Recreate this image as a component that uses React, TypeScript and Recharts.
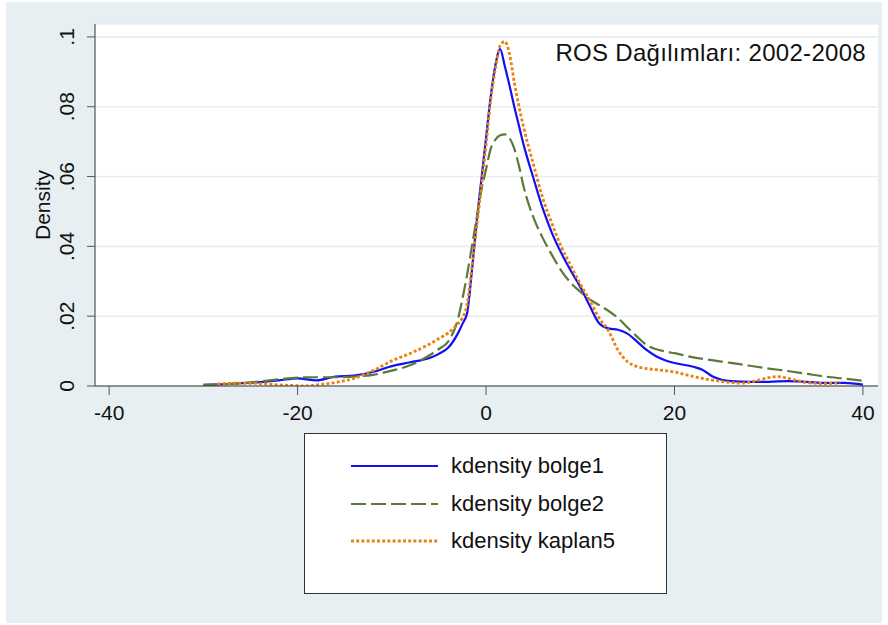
import React from "react";
import { LineChart, Line, XAxis, YAxis, CartesianGrid } from "recharts";

// x grid shared by the two bolge curves
const densityGrid = [
  -30, -28, -26, -24, -22, -20, -18, -16, -14, -12, -10, -8, -6, -5, -4, -3, -2.5, -2, -1.5, -1,
  -0.5, 0, 0.5, 1, 1.5, 2, 2.5, 3, 3.5, 4, 5, 6, 7, 8, 9, 10, 11, 12, 13, 14,
  15, 16, 17, 18, 19, 20, 22, 23, 24, 25, 26, 28, 30, 32, 34, 36, 38, 40,
];

const bolge1 = [
  0.0003, 0.0005, 0.0008, 0.0011, 0.0016, 0.0022, 0.0016, 0.0027, 0.003, 0.004, 0.0057, 0.0068, 0.008, 0.0092, 0.011, 0.015, 0.0178, 0.021, 0.033, 0.047,
  0.059, 0.071, 0.083, 0.092, 0.0965, 0.0915, 0.086, 0.08, 0.0745, 0.069, 0.0598, 0.051, 0.0438, 0.038, 0.033, 0.0284, 0.023, 0.018, 0.0165, 0.0161,
  0.015, 0.0128, 0.0104, 0.0086, 0.0074, 0.0066, 0.0055, 0.0046, 0.0028, 0.0018, 0.0014, 0.0012, 0.0012, 0.0014, 0.0012, 0.0009, 0.0009, 0.0004,
];

const bolge2 = [
  0.0003, 0.0005, 0.0008, 0.0013, 0.0019, 0.0024, 0.0025, 0.0025, 0.0027, 0.0032, 0.0044, 0.006, 0.0088, 0.0106, 0.0128, 0.019, 0.025, 0.032, 0.04, 0.048,
  0.056, 0.062, 0.068, 0.0706, 0.0718, 0.0721, 0.071, 0.068, 0.063, 0.057, 0.0485, 0.0425, 0.0375, 0.033, 0.0295, 0.027, 0.0248, 0.0232, 0.0215, 0.0195,
  0.0168, 0.0142, 0.0118, 0.0106, 0.0099, 0.0094, 0.0082, 0.0078, 0.0074, 0.007, 0.0066, 0.0058, 0.005, 0.0043, 0.0035, 0.0027, 0.0021, 0.0015,
];

const kaplan5Grid = [
  -28.5, -28, -26, -24, -22, -20, -19, -18, -16, -14, -12, -10, -8, -6, -5, -4, -3, -2.5, -2, -1.5,
  -1, -0.5, 0, 0.5, 1, 1.5, 2, 2.5, 3, 3.5, 4, 5, 6, 7, 8, 9, 10, 11, 12, 13,
  14, 15, 16, 17, 18, 19, 20, 22, 24, 26, 27, 28, 29, 30, 31, 32, 34, 36, 37.6,
];

const kaplan5 = [
  0.0005, 0.0007, 0.0008, 0.0007, 0.0003, 0.0001, 0, 0.0003, 0.001, 0.0022, 0.0044, 0.0072, 0.0094, 0.012, 0.0136, 0.0152, 0.0178, 0.0195, 0.0235, 0.034,
  0.0455, 0.057, 0.069, 0.082, 0.091, 0.0975, 0.0987, 0.095, 0.087, 0.08, 0.074, 0.0638, 0.054, 0.0465, 0.0398, 0.0345, 0.0292, 0.0246, 0.0195, 0.0158,
  0.0103, 0.007, 0.0056, 0.005, 0.0047, 0.0044, 0.004, 0.0027, 0.0017, 0.001, 0.0008, 0.0011, 0.0017, 0.0024, 0.0027, 0.0022, 0.001, 0.0007, 0.0009,
];

const xTicks = [-40, -20, 0, 20, 40];
const yTicks = [0, 0.02, 0.04, 0.06, 0.08, 0.1];

const toPoints = (xs: number[], ys: number[]) => xs.map((x, i) => ({ x, y: ys[i] }));

const series = [
  { name: "kdensity bolge1", data: toPoints(densityGrid, bolge1), color: "#1010f5", dash: undefined, width: 2.2 },
  { name: "kdensity bolge2", data: toPoints(densityGrid, bolge2), color: "#5b7a3a", dash: "15 5", width: 2.2 },
  { name: "kdensity kaplan5", data: toPoints(kaplan5Grid, kaplan5), color: "#ea820f", dash: "3 2.2", width: 2.8 },
];

const FONT = "'Liberation Sans', Arial, sans-serif";

const fmtY = (v: number) => (v === 0 ? "0" : String(v).replace(/^0/, ""));

function YTick({ x, y, payload }: any) {
  return (
    <text
      x={x}
      y={y}
      transform={`rotate(-90 ${x} ${y})`}
      textAnchor="middle"
      fontFamily={FONT}
      fontSize={21}
      fill="#111"
    >
      {fmtY(payload.value)}
    </text>
  );
}

function XTick({ x, y, payload }: any) {
  return (
    <text x={x} y={y} dy="0.71em" textAnchor="middle" fontFamily={FONT} fontSize={21} fill="#111">
      {payload.value}
    </text>
  );
}

export default function App() {
  return (
    <div style={{ position: "absolute", left: 0, top: 0, width: 888, height: 625, background: "#fff" }}>
      <div style={{ position: "absolute", left: 6, top: 2, width: 876, height: 621, background: "#e8eff2" }} />
      <div style={{ position: "absolute", left: 0, top: 0 }}>
        <LineChart width={888} height={625} margin={{ top: 24, right: 10, bottom: 209, left: 35 }}>
          <CartesianGrid vertical={false} fill="#fff" stroke="#e6eef1" strokeWidth={1.6} />
          <XAxis
            type="number"
            dataKey="x"
            domain={[-41.5, 41.6]}
            ticks={xTicks}
            height={30}
            tickSize={9}
            tickMargin={10}
            stroke="#333"
            tickLine={{ stroke: "#555" }}
            tick={<XTick />}
            allowDataOverflow
          />
          <YAxis
            type="number"
            dataKey="y"
            domain={[0, 0.1037]}
            ticks={yTicks}
            width={60}
            tickSize={8}
            tickMargin={13}
            stroke="#333"
            tickLine={{ stroke: "#555" }}
            tick={<YTick />}
            allowDataOverflow
            label={{
              content: () => (
                <text x={50} y={205} transform="rotate(-90 50 205)" textAnchor="middle" fontFamily={FONT} fontSize={21} fill="#111">
                  Density
                </text>
              ),
            }}
          />
          {series.map((s) => (
            <Line
              key={s.name}
              data={s.data}
              dataKey="y"
              name={s.name}
              type="monotone"
              stroke={s.color}
              strokeWidth={s.width}
              strokeDasharray={s.dash}
              dot={false}
              activeDot={false}
              isAnimationActive={false}
            />
          ))}
        </LineChart>
      </div>
      <div
        style={{
          position: "absolute",
          right: 22,
          top: 41,
          fontFamily: FONT,
          fontSize: 24,
          lineHeight: "24px",
          letterSpacing: 0.3,
          color: "#111",
          whiteSpace: "nowrap",
        }}
      >
        ROS Dağılımları: 2002-2008
      </div>
      <div
        style={{
          position: "absolute",
          left: 304,
          top: 433,
          width: 361,
          height: 159,
          background: "#fff",
          border: "1.5px solid #333",
          fontFamily: FONT,
        }}
      >
        {series.map((s, i) => (
          <div key={s.name} style={{ position: "absolute", left: 46, top: 19 + i * 37.5, height: 26, display: "flex", alignItems: "center" }}>
            <svg width={87} height={6} style={{ display: "block" }}>
              <line x1={0} y1={3} x2={87} y2={3} stroke={s.color} strokeWidth={s.width} strokeDasharray={s.dash} />
            </svg>
            <span style={{ marginLeft: 13, fontSize: 22, color: "#111", whiteSpace: "nowrap" }}>{s.name}</span>
          </div>
        ))}
      </div>
    </div>
  );
}
